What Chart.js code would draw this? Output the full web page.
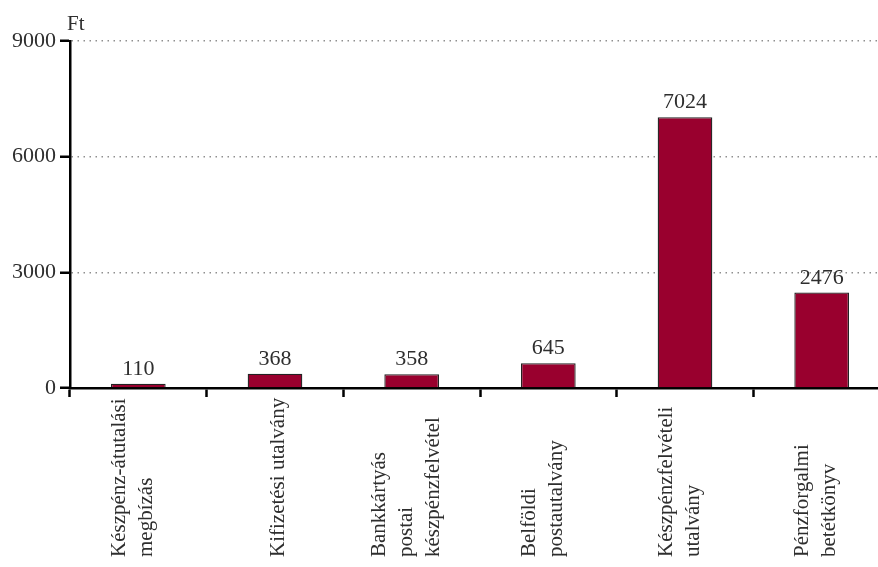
<!DOCTYPE html>
<html>
<head>
<meta charset="utf-8">
<script src="https://cdn.jsdelivr.net/npm/chart.js@4"></script>
<style>
  html, body { margin: 0; padding: 0; background: #fff; overflow: hidden; width: 878px; height: 567px; }
  #wrap { width: 900px; height: 567px; }
</style>
</head>
<body>
<div id="wrap"><canvas id="c" width="900" height="567"></canvas></div>
<script>
const categories = [
  ['Készpénz-átutalási', 'megbízás'],
  ['Kifizetési utalvány'],
  ['Bankkártyás', 'postai', 'készpénzfelvétel'],
  ['Belföldi', 'postautalvány'],
  ['Készpénzfelvételi', 'utalvány'],
  ['Pénzforgalmi', 'betétkönyv']
];
const values = [110, 368, 358, 645, 7024, 2476];
const yTicks = [0, 3000, 6000, 9000];
const unitLabel = 'Ft';

const FONT = '"Liberation Serif", "Times New Roman", serif';
const TEXT = '#2e2e2e';

const overlay = {
  id: 'overlay',
  afterDatasetsDraw(chart) {
    const ctx = chart.ctx;
    const meta = chart.getDatasetMeta(0);
    ctx.save();
    ctx.font = '22px ' + FONT;
    ctx.fillStyle = TEXT;
    ctx.textAlign = 'center';
    ctx.textBaseline = 'alphabetic';
    meta.data.forEach((bar, i) => {
      ctx.fillText(String(values[i]), bar.x, bar.y - 9);
    });
    ctx.restore();
  },
  afterDraw(chart) {
    const ctx = chart.ctx;
    const xs = chart.scales.x;
    const area = chart.chartArea;
    ctx.save();
    ctx.font = '21px ' + FONT;
    ctx.fillStyle = TEXT;
    ctx.textAlign = 'left';
    ctx.textBaseline = 'alphabetic';
    ctx.fillText(unitLabel, area.left - 3, area.top - 11);
    const startY = 557;
    const lineGap = 27;
    categories.forEach((lines, i) => {
      const cx = xs.getPixelForValue(i);
      const n = lines.length;
      const off = n === 1 ? 9 : 0;
      lines.forEach((ln, j) => {
        const bx = cx + (j - (n - 1) / 2) * lineGap + off;
        ctx.save();
        ctx.translate(bx, startY);
        ctx.rotate(-Math.PI / 2);
        ctx.textAlign = 'left';
        ctx.textBaseline = 'alphabetic';
        ctx.fillText(ln, 0, 0);
        ctx.restore();
      });
    });
    ctx.restore();
  }
};

new Chart(document.getElementById('c'), {
  type: 'bar',
  data: {
    labels: categories.map(c => c.join(' ')),
    datasets: [{
      data: values,
      backgroundColor: '#99002e',
      borderColor: '#222222',
      borderWidth: 1.3,
      barPercentage: 0.4,
      categoryPercentage: 1.0
    }]
  },
  options: {
    responsive: false,
    animation: false,
    events: [],
    layout: { padding: { left: 0, right: 10, top: 41, bottom: 0 } },
    plugins: {
      legend: { display: false },
      tooltip: { enabled: false },
      title: { display: false }
    },
    scales: {
      x: {
        type: 'category',
        offset: true,
        grid: {
          offset: true,
          drawOnChartArea: false,
          drawTicks: true,
          tickLength: 9,
          tickColor: '#000',
          tickWidth: 2.5,
          color: '#000'
        },
        border: { display: true, color: '#000', width: 2.5 },
        ticks: { display: false },
        afterFit(scale) { scale.height = 179; }
      },
      y: {
        min: 0,
        max: 9000,
        afterBuildTicks(scale) { scale.ticks = yTicks.map(v => ({ value: v })); },
        grid: {
          color: (ctx) => (ctx.tick && ctx.tick.value === 0) ? 'rgba(0,0,0,0)' : '#8f8f8f',
          lineWidth: 1.5,
          drawTicks: true,
          tickLength: 10,
          tickColor: '#000',
          tickWidth: 2.5,
          tickBorderDash: [0, 0]
        },
        border: { display: true, color: '#000', width: 2.5, dash: [1.5, 4.5] },
        ticks: {
          padding: 4,
          color: TEXT,
          font: { family: FONT, size: 22 },
          callback: (v) => String(v)
        },
        afterFit(scale) { scale.width = 70; }
      }
    }
  },
  plugins: [overlay]
});
</script>
</body>
</html>
